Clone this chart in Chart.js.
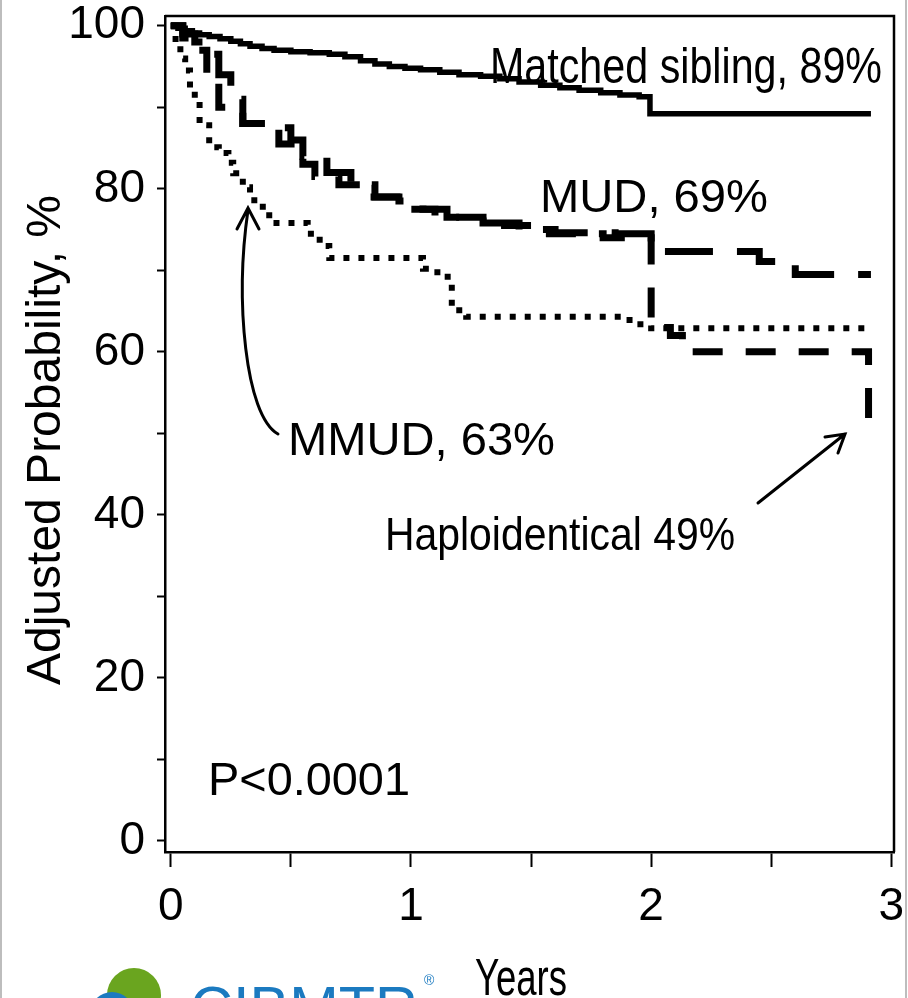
<!DOCTYPE html>
<html>
<head>
<meta charset="utf-8">
<script src="https://cdn.jsdelivr.net/npm/chart.js@4/dist/chart.umd.min.js"></script>
<style>
  body { margin: 0; background: #fff; }
  #wrap { width: 908px; height: 998px; }
</style>
</head>
<body>
<div id="wrap"><canvas id="km" width="908" height="998"></canvas></div>
<script>
// Curvas de supervivencia (años, probabilidad ajustada %)
const sibX = [0, 0.03, 0.06, 0.09, 0.12, 0.16, 0.205, 0.25, 0.29, 0.33, 0.38, 0.43, 0.5, 0.58, 0.66, 0.725, 0.79, 0.85, 0.91, 0.975, 1.04, 1.12, 1.2, 1.29, 1.37, 1.45, 1.54, 1.62, 1.7, 1.79, 1.87, 1.95, 1.995, 2.915];
const sibY = [100, 99.7, 99.4, 99.1, 98.9, 98.7, 98.4, 98.1, 97.8, 97.5, 97.2, 97.0, 96.8, 96.7, 96.5, 96.2, 95.7, 95.3, 95.0, 94.8, 94.6, 94.3, 94.0, 93.8, 93.5, 93.1, 92.7, 92.4, 92.1, 91.8, 91.5, 91.3, 89.2, 89.2];

const mudX = [0, 0.05, 0.1, 0.15, 0.2, 0.25, 0.3, 0.4, 0.5, 0.55, 0.65, 0.75, 0.85, 0.95, 1.05, 1.15, 1.3, 1.45, 1.6, 1.85, 2.0, 2.45, 2.6, 2.915];
const mudY = [100, 99, 98, 96.5, 94, 91, 88, 87.5, 86, 84, 82, 80.5, 79, 78.5, 77.5, 76.5, 75.8, 75, 74.6, 74.5, 72.3, 71.1, 69.5, 69.5];

const haploX = [0, 0.05, 0.1, 0.15, 0.2, 0.3, 0.45, 0.55, 0.6, 0.7, 0.8, 1.0, 1.1, 1.3, 1.5, 1.8, 2.0, 2.08, 2.13, 2.9, 2.905];
const haploY = [100, 98.5, 97, 93, 90, 88, 85.5, 83, 81.5, 80.5, 79, 77.5, 76.5, 75.5, 74.5, 74, 63, 62, 60, 60, 49.5];

const mmudX = [0, 0.02, 0.04, 0.06, 0.08, 0.1, 0.12, 0.16, 0.2, 0.24, 0.26, 0.3, 0.33, 0.37, 0.41, 0.57, 0.62, 0.66, 0.98, 1.05, 1.11, 1.17, 1.23, 1.91, 2.0, 2.915];
const mmudY = [100, 98, 96, 94.5, 92.4, 90.9, 87.8, 85.1, 84.4, 83.2, 81.9, 80.2, 78.6, 77.8, 75.8, 74.5, 73, 71.5, 71.5, 70.2, 69.2, 65.1, 64.3, 63.4, 62.9, 62.9];

const yTicks = [0, 10, 20, 30, 40, 50, 60, 70, 80, 90, 100];
const xTicks = [0, 0.5, 1, 1.5, 2, 2.5, 3];

const pts = (xs, ys) => xs.map((x, i) => ({ x: x, y: ys[i] }));

const FONT = '"Liberation Sans", Arial, sans-serif';

function texto(ctx, s, x, y, size, ancho) {
  ctx.save();
  ctx.font = size + 'px ' + FONT;
  const m = ctx.measureText(s).width;
  ctx.translate(x, y);
  if (ancho) ctx.scale(ancho / m, 1);
  ctx.fillText(s, 0, 0);
  ctx.restore();
}

const adornos = {
  id: 'adornos',
  afterDraw(chart) {
    const ctx = chart.ctx;
    const a = chart.chartArea;
    ctx.save();
    // marco superior y derecho
    ctx.strokeStyle = '#000';
    ctx.lineWidth = 2.5;
    ctx.beginPath();
    ctx.moveTo(a.left, a.top);
    ctx.lineTo(a.right, a.top);
    ctx.lineTo(a.right, a.bottom);
    ctx.stroke();

    ctx.fillStyle = '#000';
    ctx.textBaseline = 'alphabetic';
    texto(ctx, 'Matched sibling, 89%', 490, 83, 50, 392);
    texto(ctx, 'MUD, 69%', 540, 212, 47, 228);
    texto(ctx, 'MMUD, 63%', 288, 455, 46, 267);
    texto(ctx, 'Haploidentical 49%', 385, 550, 47, 350);
    texto(ctx, 'P<0.0001', 208, 795, 47, 202);
    texto(ctx, 'Years', 475, 995, 52, 92);

    // titulo eje y
    ctx.save();
    ctx.translate(60, 440);
    ctx.rotate(-Math.PI / 2);
    ctx.textAlign = 'center';
    ctx.font = '48px ' + FONT;
    ctx.fillText('Adjusted Probability, %', 0, 0);
    ctx.restore();

    // flechas
    ctx.lineWidth = 3;
    ctx.lineCap = 'round';
    ctx.beginPath();
    ctx.moveTo(278, 434);
    ctx.bezierCurveTo(245, 415, 235, 300, 248, 210);
    ctx.moveTo(237, 229);
    ctx.lineTo(248, 208);
    ctx.lineTo(259, 229);
    ctx.stroke();

    ctx.beginPath();
    ctx.moveTo(758, 503);
    ctx.lineTo(845, 434);
    ctx.moveTo(825, 437);
    ctx.lineTo(845, 434);
    ctx.lineTo(838, 453);
    ctx.stroke();

    // logo parcial
    ctx.fillStyle = '#6aa51f';
    ctx.beginPath();
    ctx.arc(134, 995, 27, 0, Math.PI * 2);
    ctx.fill();
    ctx.fillStyle = '#1b7ac0';
    ctx.beginPath();
    ctx.arc(112, 1014, 22, 0, Math.PI * 2);
    ctx.fill();
    texto(ctx, 'CIBMTR', 190, 1028, 60, 228);
    texto(ctx, '®', 424, 985, 14);

    // bordes grises
    ctx.fillStyle = '#bdbdbd';
    ctx.fillRect(0, 0, 2, 998);
    ctx.fillRect(905, 0, 2, 998);
    ctx.restore();
  }
};

const canvas = document.getElementById('km');

new Chart(canvas, {
  type: 'line',
  data: {
    datasets: [
      { label: 'Matched sibling', data: pts(sibX, sibY), borderColor: '#000', borderWidth: 5.5 },
      { label: 'MUD', data: pts(mudX, mudY), borderColor: '#000', borderWidth: 7, borderDash: [48, 24] },
      { label: 'Haploidentical', data: pts(haploX, haploY), borderColor: '#000', borderWidth: 7, borderDash: [30, 23] },
      { label: 'MMUD', data: pts(mmudX, mmudY), borderColor: '#000', borderWidth: 6, borderDash: [6, 9] }
    ]
  },
  options: {
    responsive: false,
    animation: false,
    elements: {
      line: { stepped: 'before', tension: 0, borderCapStyle: 'butt' },
      point: { radius: 0 }
    },
    layout: { padding: { top: 16, right: 14, left: 0, bottom: 0 } },
    plugins: { legend: { display: false }, tooltip: { enabled: false } },
    scales: {
      x: {
        type: 'linear',
        min: -0.024,
        max: 3.011,
        afterFit: s => { s.height = 146; s.paddingLeft = 0; s.paddingRight = 0; },
        afterBuildTicks: s => { s.ticks = xTicks.map(v => ({ value: v })); },
        ticks: {
          autoSkip: false,
          maxRotation: 0,
          color: '#000',
          padding: 13,
          font: { family: FONT, size: 46 },
          callback: v => (v % 1 === 0 ? String(v) : '')
        },
        grid: { drawOnChartArea: false, drawTicks: true, tickLength: 15, tickColor: '#000', tickWidth: 2 },
        border: { display: true, color: '#000', width: 2.5 }
      },
      y: {
        min: -1.35,
        max: 101.2,
        afterFit: s => { s.width = 165; s.paddingTop = 0; s.paddingBottom = 0; },
        afterBuildTicks: s => { s.ticks = yTicks.map(v => ({ value: v })); },
        ticks: {
          autoSkip: false,
          color: '#000',
          padding: 12,
          font: { family: FONT, size: 46 },
          callback: v => (v % 20 === 0 ? String(v) : '')
        },
        grid: { drawOnChartArea: false, drawTicks: true, tickLength: 8, tickColor: '#000', tickWidth: 2 },
        border: { display: true, color: '#000', width: 2.5 }
      }
    }
  },
  plugins: [adornos]
});
</script>
</body>
</html>
